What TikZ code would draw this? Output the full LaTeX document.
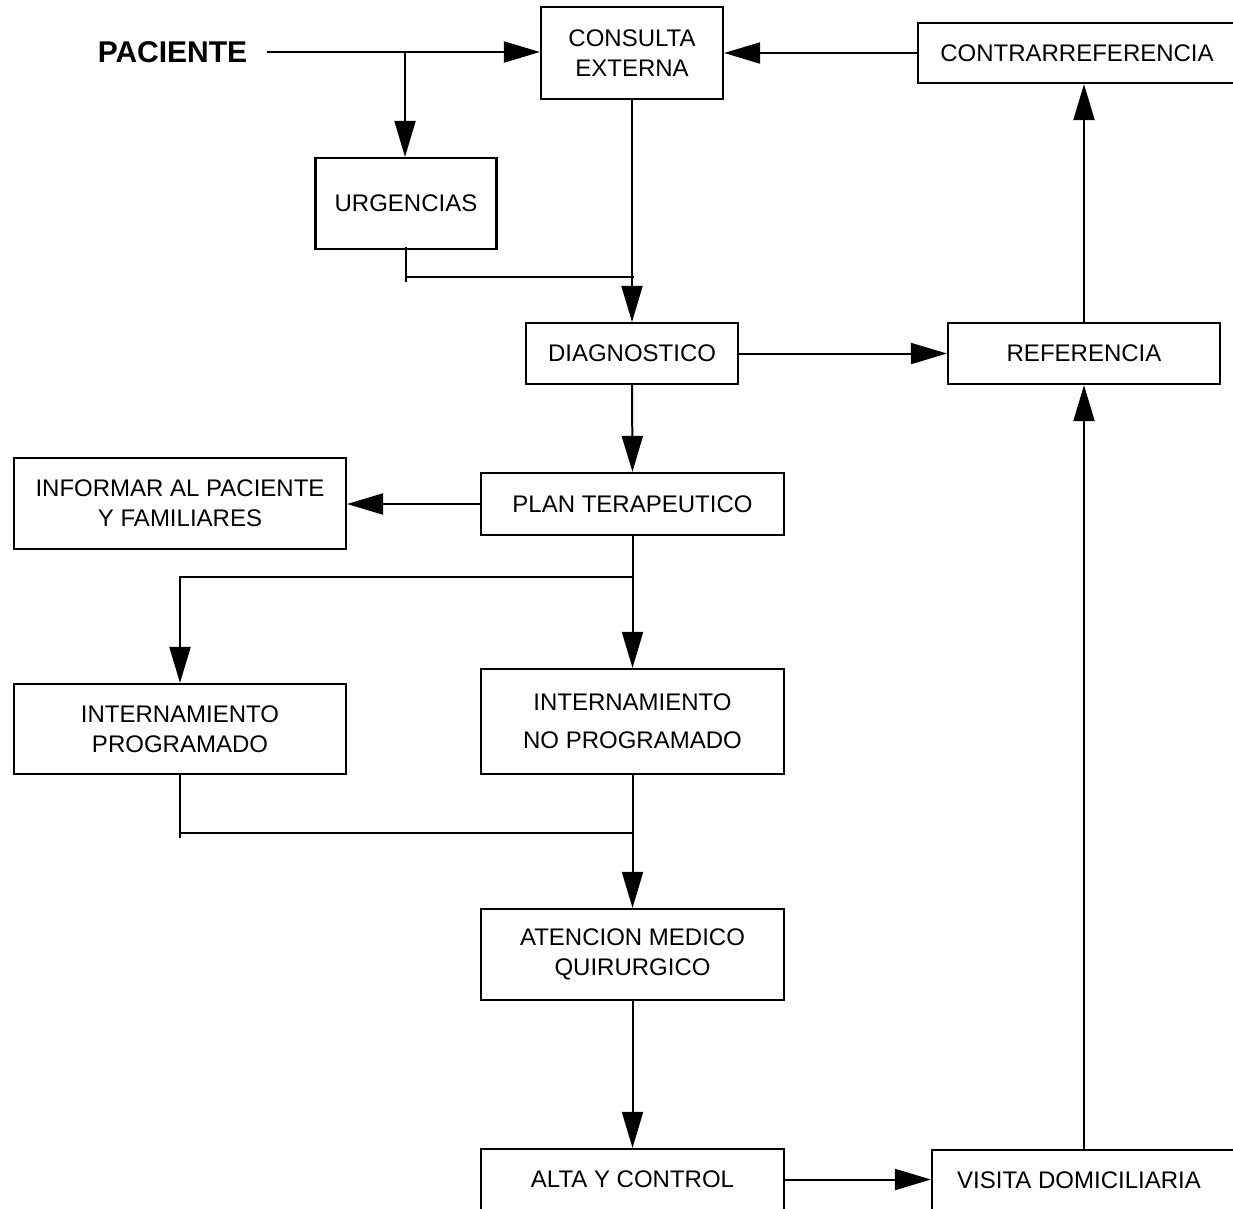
\documentclass[tikz,border=0pt]{standalone}
\usepackage{fontspec}
\setmainfont{Liberation Sans}
\usetikzlibrary{arrows.meta}
\begin{document}
\begin{tikzpicture}[x=1pt,y=-1pt,
  box/.style={draw, line width=2.2pt, inner sep=0pt, align=center, font=\fontsize{24}{30}\selectfont},
  conn/.style={line width=2pt},
  arr/.style={conn, -{Triangle[length=36pt,width=21pt]}}]
\useasboundingbox (0,0) rectangle (1233,1208);
\clip (0,0) rectangle (1233,1208);
\fill[white] (0,0) rectangle (1233,1208);

\node[font=\fontsize{30}{36}\selectfont\bfseries, inner sep=0pt, inner xsep=20pt] (pac) at (172.5,52) {PACIENTE};
\node[box, minimum width=182, minimum height=92] (cons) at (632,53) {CONSULTA\\EXTERNA};
\node[box, minimum width=181, minimum height=91] (urg) at (406,203.5) {URGENCIAS};
\node[box, minimum width=318, minimum height=60] (contra) at (1077,53) {CONTRARREFERENCIA};
\node[box, minimum width=212, minimum height=61] (diag) at (632,353.5) {DIAGNOSTICO};
\node[box, minimum width=272, minimum height=61] (ref) at (1084,353.5) {REFERENCIA};
\node[box, minimum width=303, minimum height=62] (plan) at (632.5,504) {PLAN TERAPEUTICO};
\node[box, minimum width=332, minimum height=91] (inf) at (180,503.5) {INFORMAR AL PACIENTE\\Y FAMILIARES};
\node[box, minimum width=332, minimum height=90] (prog) at (180,729) {INTERNAMIENTO\\PROGRAMADO};
\node[box, minimum width=303, minimum height=105] (noprog) at (632.5,721.5) {INTERNAMIENTO\\[8pt]NO PROGRAMADO};
\node[box, minimum width=303, minimum height=91] (aten) at (632.5,954.5) {ATENCION MEDICO\\QUIRURGICO};
\node[box, minimum width=303, minimum height=61] (alta) at (632.5,1179.5) {ALTA Y CONTROL};
\node[box, minimum width=308, minimum height=61] (vis) at (1086,1180.5) {VISITA DOMICILIARIA\hspace*{14pt}};

\coordinate (b1) at (405,52);
\coordinate (j1) at (634,277);
\coordinate (j2) at (634,577);
\coordinate (j3) at (634,833);

\draw[arr] (pac.east) -- (pac.east -| cons.west);
\draw[arr] (b1) -- (b1 |- urg.north);
\draw[conn] ([yshift=3pt]urg.south) -- ++(0,35);
\draw[conn] (urg.south |- j1) -- (j1);
\draw[arr] (cons.south) -- (diag.north);
\draw[arr] (diag.east) -- (ref.west);
\draw[arr] (ref.north) -- (ref.north |- contra.south);
\draw[arr] (contra.west) -- (cons.east);
\draw[arr] (diag.south) -- (plan.north);
\draw[arr] (plan.west) -- (plan.west -| inf.east);
\draw[arr] (plan.south) -- (noprog.north);
\draw[arr] (j2) -| (prog.north);
\draw[conn] ([yshift=2pt]prog.south) -- ++(0,65);
\draw[conn] (prog.south |- j3) -- (j3);
\draw[arr] (noprog.south) -- (aten.north);
\draw[arr] (aten.south) -- (alta.north);
\draw[arr] (alta.east) -- (alta.east -| vis.west);
\draw[arr] (ref.south |- vis.north) -- (ref.south);
\end{tikzpicture}
\end{document}
